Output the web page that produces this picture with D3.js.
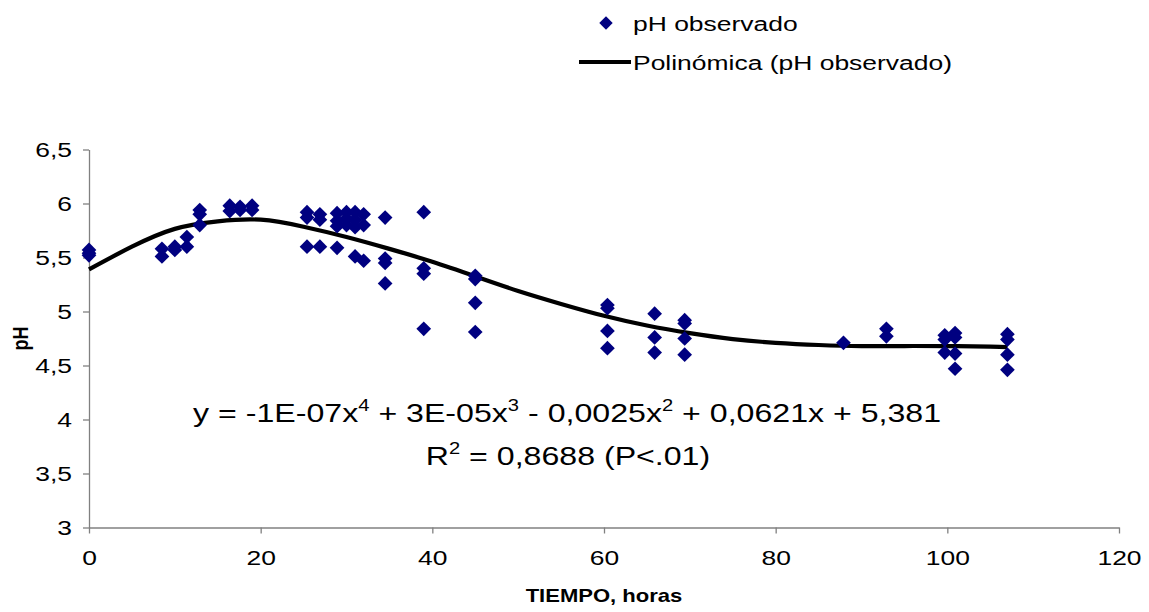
<!DOCTYPE html>
<html>
<head>
<meta charset="utf-8">
<script src="https://cdn.jsdelivr.net/npm/d3@7"></script>
<style>
body { margin: 0; background: #fff; }
text { font-family: "Liberation Sans", Arial, sans-serif; fill: #000; }
</style>
</head>
<body>
<div id="chart"></div>
<script>
// observed points (hours, pH)
var timeHours = [0, 0, 0, 8.5, 8.5, 10, 10, 11.4, 11.4, 12.9, 12.9, 12.9,
    16.4, 16.4, 17.6, 17.6, 19, 19,
    25.4, 25.4, 25.4, 26.9, 26.9, 26.9, 28.9, 28.9, 28.9, 28.9, 30, 30, 30,
    31, 31, 31, 31, 32, 32, 32, 34.5, 34.5, 34.5, 34.5, 39, 39, 39, 39,
    45, 45, 45, 45, 60.4, 60.4, 60.4, 60.4, 65.9, 65.9, 65.9, 69.4, 69.4, 69.4, 69.4,
    87.9, 92.9, 92.9, 99.7, 99.7, 99.7, 100.9, 100.9, 100.9, 100.9, 107, 107, 107, 107];
var phObserved = [5.57, 5.54, 5.52, 5.58, 5.51, 5.60, 5.57, 5.69, 5.60, 5.94, 5.90, 5.80,
    5.98, 5.93, 5.97, 5.94, 5.98, 5.94,
    5.92, 5.87, 5.60, 5.90, 5.85, 5.60, 5.91, 5.84, 5.79, 5.59, 5.92, 5.86, 5.80,
    5.92, 5.85, 5.78, 5.51, 5.90, 5.80, 5.47, 5.87, 5.49, 5.45, 5.26, 5.92, 5.40, 5.35, 4.84,
    5.33, 5.30, 5.08, 4.81, 5.06, 5.03, 4.82, 4.66, 4.98, 4.76, 4.62, 4.92, 4.89, 4.75, 4.60,
    4.71, 4.84, 4.77, 4.78, 4.74, 4.62, 4.80, 4.76, 4.61, 4.47, 4.79, 4.74, 4.60, 4.46];

// polynomial trend line
var fitTime = [0, 5, 10, 15, 20, 25, 30, 35, 40, 45, 50, 55, 60, 65, 70, 75, 80, 85,
    90, 95, 100, 105, 107];
var fitPh = [5.39, 5.60, 5.765, 5.835, 5.85, 5.785, 5.69, 5.58, 5.46, 5.325, 5.19, 5.07,
    4.96, 4.87, 4.80, 4.745, 4.71, 4.69, 4.68, 4.68, 4.68, 4.675, 4.67];

var xTicks = [0, 20, 40, 60, 80, 100, 120];
var yTicks = [3, 3.5, 4, 4.5, 5, 5.5, 6, 6.5];

var W = 1149, H = 612;
var margin = { top: 149.5, right: 30, bottom: 84.5, left: 89 };
var stretch = 1.26;

var svg = d3.select("#chart").append("svg")
    .attr("width", W)
    .attr("height", H);

var xScale = d3.scaleLinear().domain([0, 120]).range([margin.left, W - margin.right]),
    yScale = d3.scaleLinear().domain([3, 6.5]).range([H - margin.bottom, margin.top]);

function comma(d) { return String(d).replace(".", ","); }

var xAxis = d3.axisBottom(xScale).tickValues(xTicks).tickSize(6).tickPadding(17).tickSizeOuter(0);
var yAxis = d3.axisLeft(yScale).tickValues(yTicks).tickFormat(comma).tickSize(6).tickPadding(0).tickSizeOuter(0);

var gx = svg.append("g")
    .attr("transform", "translate(0," + yScale(3) + ")")
    .call(xAxis);
var gy = svg.append("g")
    .attr("transform", "translate(" + xScale(0) + ",0)")
    .call(yAxis);

[gx, gy].forEach(function(g) {
    g.select(".domain").attr("stroke", "#808080").attr("stroke-width", 1.3);
    g.selectAll(".tick line").attr("stroke", "#808080").attr("stroke-width", 1.3);
    g.selectAll(".tick text")
        .attr("font-size", 21)
        .attr("fill", "#000")
        .style("font-family", '"Liberation Sans", Arial, sans-serif')
        .attr("transform", "scale(" + stretch + ",1)");
});
gy.selectAll(".tick text").attr("x", -17 / stretch);

// axis titles
svg.append("text")
    .attr("text-anchor", "middle")
    .attr("font-size", 17.5)
    .attr("font-weight", "bold")
    .attr("transform", "translate(" + (xScale(60)) + ",602) scale(" + stretch + ",1)")
    .text("TIEMPO, horas");

svg.append("text")
    .attr("text-anchor", "middle")
    .attr("font-size", 18)
    .attr("font-weight", "bold")
    .attr("transform", "translate(28," + yScale(4.75) + ") scale(" + stretch + ",1) rotate(-90)")
    .text("pH");

// trend line
var line = d3.line()
    .x(function(d) { return xScale(d[0]); })
    .y(function(d) { return yScale(d[1]); })
    .curve(d3.curveNatural);

svg.append("path")
    .datum(d3.zip(fitTime, fitPh))
    .attr("fill", "none")
    .attr("stroke", "#000")
    .attr("stroke-width", 4.2)
    .attr("d", line);

// points
var diamond = d3.symbol().type(d3.symbolSquare).size(108);

svg.append("g")
    .selectAll("path")
    .data(d3.zip(timeHours, phObserved))
    .enter()
    .append("path")
    .attr("d", diamond)
    .attr("fill", "#000080")
    .attr("transform", function(d) {
        return "translate(" + xScale(d[0]) + "," + yScale(d[1]) + ") rotate(45)"; });

// equation
var eq = svg.append("text")
    .attr("text-anchor", "middle")
    .attr("font-size", 25.5)
    .attr("transform", "translate(" + (xScale(55.7)) + ",422) scale(" + stretch + ",1)");
function sup(t, s) {
    t.append("tspan").attr("font-size", 16).attr("dy", -11).text(s);
}
function norm(t, s) {
    t.append("tspan").attr("dy", 11).text(s);
}
eq.append("tspan").text("y = -1E-07x");
sup(eq, "4");
norm(eq, " + 3E-05x");
sup(eq, "3");
norm(eq, " - 0,0025x");
sup(eq, "2");
norm(eq, " + 0,0621x + 5,381");

var r2 = svg.append("text")
    .attr("text-anchor", "middle")
    .attr("font-size", 25.5)
    .attr("transform", "translate(" + (xScale(55.8)) + ",465) scale(" + stretch + ",1)");
r2.append("tspan").text("R");
sup(r2, "2");
norm(r2, " = 0,8688 (P<.01)");

// legend
var legend = svg.append("g");
legend.append("path")
    .attr("d", d3.symbol().type(d3.symbolSquare).size(90))
    .attr("fill", "#000080")
    .attr("transform", "translate(606,23) rotate(45)");
legend.append("text")
    .attr("font-size", 21)
    .attr("transform", "translate(633,31) scale(" + stretch + ",1)")
    .text("pH observado");
legend.append("line")
    .attr("x1", 579).attr("x2", 631)
    .attr("y1", 62).attr("y2", 62)
    .attr("stroke", "#000")
    .attr("stroke-width", 4.2);
legend.append("text")
    .attr("font-size", 21)
    .attr("transform", "translate(633,70) scale(" + stretch + ",1)")
    .text("Polinómica (pH observado)");
</script>
</body>
</html>
